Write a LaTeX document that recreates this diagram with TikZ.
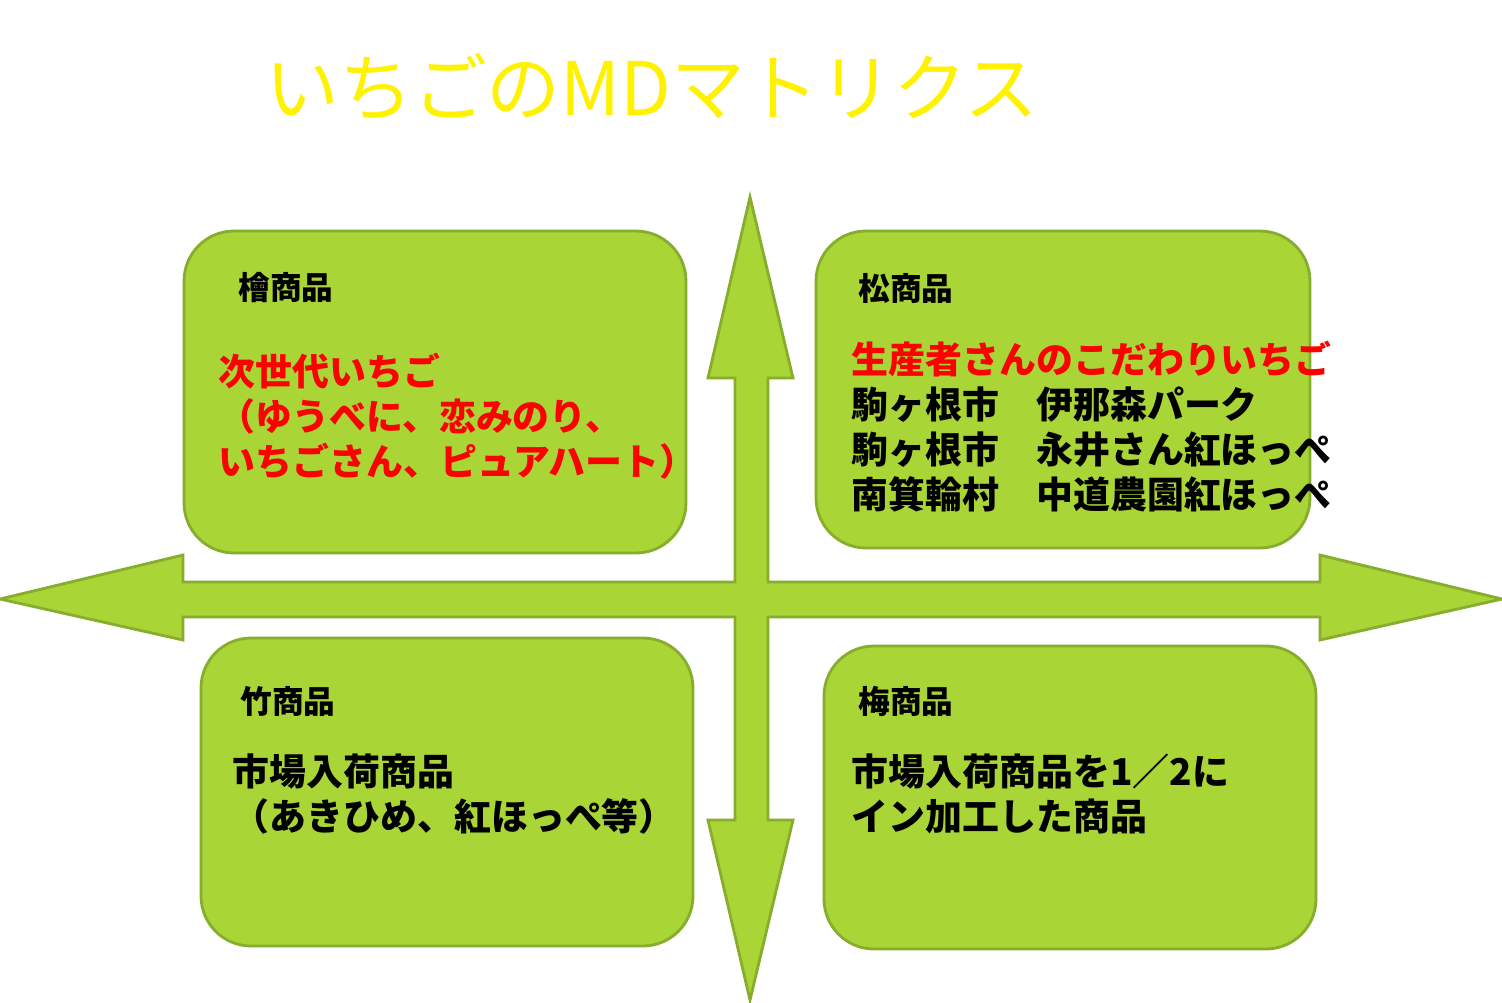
\documentclass[tikz,border=0pt]{standalone}
\usepackage{fontspec}
\setmainfont{Noto Sans CJK JP}
\usetikzlibrary{positioning}
\definecolor{leaf}{HTML}{A9D536}
\definecolor{leafline}{HTML}{86AD2B}
\tikzset{
  quad/.style={fill=leaf, draw=leafline, thick, rounded corners=0.5cm},
  head/.style={anchor=west, font=\fontsize{9}{11}\selectfont\bfseries},
  body/.style={anchor=north west, align=left, inner sep=0pt,
    font=\fontsize{10.5}{12.8}\selectfont\bfseries}
}
\begin{document}
\begin{tikzpicture}[x=0.01cm, y=-0.01cm]
  \useasboundingbox (0,0) rectangle (1502,1002);
  \node (title) [text=yellow, font=\fontsize{21}{24}\selectfont] at (652,87) {いちごのMDマトリクス};
  % cross of arrows
  \filldraw[fill=leaf, draw=leafline, thick]
    (750,197) -- (793,378) -- (768,378) -- (768,582) -- (1320,582) -- (1320,555)
    -- (1502,599) -- (1320,640) -- (1320,617) -- (768,617) -- (768,820)
    -- (793,820) -- (750,1000) -- (708,820) -- (735,820) -- (735,617)
    -- (183,617) -- (183,640) -- (0,599) -- (183,555) -- (183,582)
    -- (735,582) -- (735,378) -- (708,378) -- cycle;
  % quadrants
  \draw[quad] (184,231) rectangle (686,553);
  \draw[quad] (816,231) rectangle (1310,548);
  \draw[quad] (201,638) rectangle (693,946);
  \draw[quad] (824,646) rectangle (1316,949);
  \node (hinoki) [head] at (226,288) {檜商品};
  \node (matsu) [head] at (846,288) {松商品};
  \node (take) [head] at (228,701) {竹商品};
  \node (ume) [head] at (846,701) {梅商品};
  \node (hinokiText) [body, text=red] at (218,352)
    {次世代いちご\\（ゆうべに、恋みのり、\\いちごさん、ピュアハート）};
  \node (matsuText) [body] at (851,340)
    {\textcolor{red}{生産者さんのこだわりいちご}\\駒ヶ根市　伊那森パーク\\駒ヶ根市　永井さん紅ほっぺ\\南箕輪村　中道農園紅ほっぺ};
  \node (takeText) [body] at (232,753)
    {市場入荷商品\\（あきひめ、紅ほっぺ等）};
  \node (umeText) [body] at (851,753)
    {市場入荷商品を1／2に\\イン加工した商品};
\end{tikzpicture}
\end{document}
